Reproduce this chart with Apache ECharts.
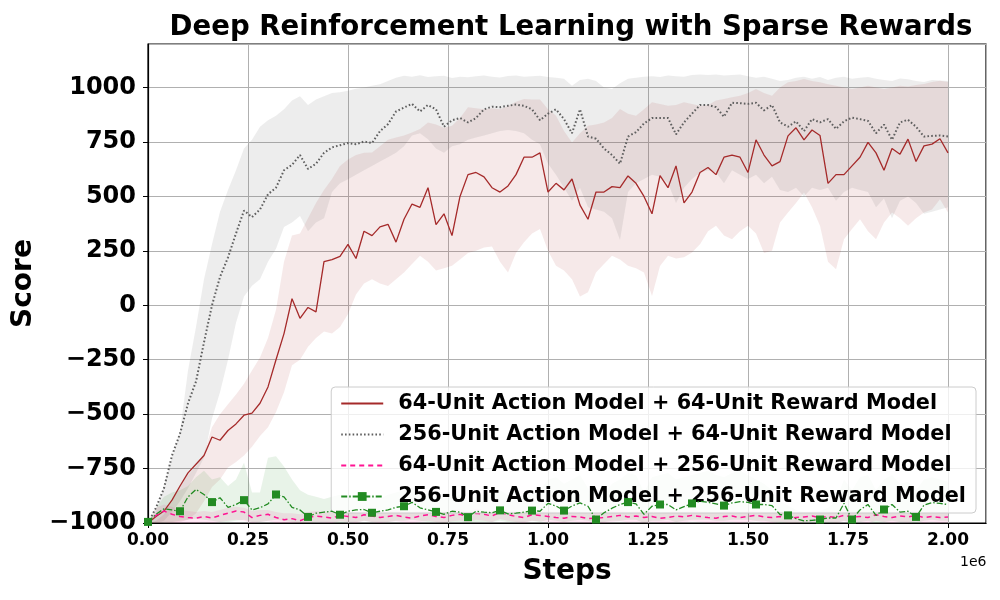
<!DOCTYPE html>
<html>
<head>
<meta charset="utf-8">
<title>Deep Reinforcement Learning with Sparse Rewards</title>
<script src="https://cdn.jsdelivr.net/npm/echarts@6.0.0/dist/echarts.min.js"></script>
<style>
html, body { margin: 0; padding: 0; background: #fff; }
#chart { width: 1000px; height: 600px; }
</style>
</head>
<body>
<div id="chart"></div>
<script>
// training steps, in thousands
var stepsK = [0, 20, 40, 60, 80, 100, 120, 140, 160, 180,
    200, 220, 240, 260, 280, 300, 320, 340, 360, 380,
    400, 420, 440, 460, 480, 500, 520, 540, 560, 580,
    600, 620, 640, 660, 680, 700, 720, 740, 760, 780,
    800, 820, 840, 860, 880, 900, 920, 940, 960, 980,
    1000, 1020, 1040, 1060, 1080, 1100, 1120, 1140, 1160, 1180,
    1200, 1220, 1240, 1260, 1280, 1300, 1320, 1340, 1360, 1380,
    1400, 1420, 1440, 1460, 1480, 1500, 1520, 1540, 1560, 1580,
    1600, 1620, 1640, 1660, 1680, 1700, 1720, 1740, 1760, 1780,
    1800, 1820, 1840, 1860, 1880, 1900, 1920, 1940, 1960, 1980,
    2000];

// 64-unit action + 64-unit reward
var redMean = [-1000, -970, -945, -895, -830, -770, -730, -690, -605, -620,
    -575, -545, -505, -495, -450, -375, -250, -130, 30, -60,
    -10, -30, 200, 210, 225, 280, 215, 340, 320, 360,
    372, 290, 395, 465, 450, 540, 370, 420, 320, 500,
    600, 610, 590, 540, 520, 548, 600, 680, 680, 700,
    520, 560, 530, 580, 460, 395, 520, 520, 545, 540,
    594, 560, 500, 420, 595, 540, 640, 470, 520, 610,
    633, 600, 680, 690, 680, 610, 760, 690, 640, 660,
    778, 815, 760, 805, 780, 560, 600, 600, 640, 680,
    748, 700, 620, 720, 694, 763, 660, 732, 740, 765,
    700];
var redUpper = [-1000, -990, -960, -900, -830, -780, -740, -680, -560, -500,
    -455, -410, -360, -300, -240, -150, -20, 200, 320, 330,
    400, 470, 530, 580, 640, 670, 690, 700, 702, 730,
    760, 770, 780, 794, 810, 840, 830, 815, 824, 860,
    910, 905, 900, 905, 900, 915, 935, 947, 945, 945,
    900, 870, 800, 748, 790, 824, 830, 840, 860, 901,
    880, 870, 900, 932, 925, 916, 920, 932, 925, 916,
    920, 940, 947, 955, 962, 975, 993, 975, 962, 1000,
    1024, 1030, 1039, 1030, 1024, 1015, 1008, 1000, 993, 1000,
    1008, 1000, 993, 1000, 1008, 1005, 1012, 1016, 1025, 1031,
    1025];
var redLower = [-1000, -1000, -1000, -1000, -995, -985, -955, -900, -835, -800,
    -745, -720, -690, -650, -600, -560, -490, -400, -275, -250,
    -190, -150, -120, -130, -100, -40, 50, 100, 120, 100,
    89, 120, 150, 190, 227, 200, 160, 170, 181, 210,
    240, 250, 265, 270, 200, 150, 240, 290, 330, 350,
    250, 181, 160, 120, 40, 60, 150, 190, 227, 210,
    181, 170, 150, 43, 180, 227, 215, 220, 242, 280,
    340, 365, 320, 303, 340, 365, 330, 240, 250, 380,
    426, 470, 518, 450, 365, 200, 166, 303, 350, 395,
    340, 303, 380, 426, 400, 365, 400, 426, 440, 487,
    426];

// 256-unit action + 64-unit reward
var grayMean = [-1000, -930, -840, -690, -590, -450, -350, -170, 0, 130,
    220, 330, 435, 405, 440, 510, 540, 620, 645, 690,
    626, 650, 700, 725, 735, 745, 740, 752, 745, 800,
    832, 890, 908, 925, 890, 920, 900, 820, 850, 860,
    840, 860, 900, 912, 910, 916, 922, 916, 900, 850,
    880, 900, 855, 790, 900, 775, 765, 720, 690, 650,
    775, 795, 835, 860, 860, 860, 785, 840, 880, 920,
    920, 910, 866, 930, 928, 925, 930, 895, 920, 840,
    820, 845, 800, 855, 840, 855, 810, 845, 862, 855,
    847, 790, 830, 760, 840, 852, 820, 775, 778, 780,
    775];
var grayUpper = [-1000, -950, -830, -700, -580, -300, -100, 120, 280, 430,
    530, 620, 720, 760, 820, 850, 870, 900, 940, 960,
    920, 945, 960, 975, 978, 985, 995, 1000, 1008, 1015,
    1030, 1045, 1054, 1050, 1056, 1048, 1052, 1054, 1044, 1050,
    1047, 1052, 1055, 1050, 1046, 1053, 1055, 1050, 1052, 1054,
    1048, 1045, 1040, 1008, 1035, 1040, 1030, 1000, 993, 1020,
    1040, 1045, 1050, 1052, 1048, 1055, 1052, 1050, 1058, 1060,
    1058, 1060, 1055, 1058, 1060, 1052, 1045, 1050, 1040, 1030,
    1035, 1045, 1050, 1040, 1048, 1035, 1045, 1050, 1040, 1045,
    1048, 1040, 1035, 1030, 1042, 1038, 1030, 1025, 1035, 1032,
    1030];
var grayLower = [-1000, -1000, -990, -950, -900, -840, -770, -700, -520, -400,
    -250, -80, 40, 90, 120, 200, 260, 360, 380, 410,
    340, 380, 400, 520, 560, 579, 600, 620, 640, 660,
    680, 700, 730, 780, 790, 763, 720, 700, 730, 740,
    760, 770, 780, 790, 800, 805, 800, 790, 760, 740,
    650, 600, 540, 480, 540, 450, 440, 430, 400, 300,
    520, 560, 580, 600, 590, 560, 470, 540, 580, 610,
    620, 610, 560, 620, 600, 580, 600, 560, 590, 530,
    520, 540, 500, 540, 530, 540, 480, 520, 540, 530,
    520, 450, 490, 400, 480, 500, 470, 420, 430, 440,
    450];

// 64-unit action + 256-unit reward
var pinkMean = [-1000, -965, -945, -960, -970, -975, -978, -970, -977, -965,
    -955, -945, -950, -975, -965, -960, -975, -985, -980, -990,
    -975, -968, -972, -978, -965, -970, -975, -962, -968, -975,
    -970, -965, -972, -978, -968, -962, -970, -975, -965, -960,
    -972, -955, -960, -968, -950, -962, -970, -975, -962, -965,
    -970, -975, -978, -970, -972, -980, -978, -975, -970, -965,
    -972, -968, -975, -970, -978, -975, -968, -972, -965, -970,
    -975, -978, -970, -968, -975, -970, -965, -972, -975, -970,
    -978, -975, -972, -968, -975, -970, -975, -965, -972, -970,
    -975, -962, -970, -975, -968, -972, -965, -975, -970, -975,
    -972];
var pinkUpper = [-1000, -930, -915, -925, -940, -945, -950, -945, -950, -940,
    -930, -925, -930, -945, -940, -940, -950, -955, -955, -960,
    -950, -945, -948, -950, -942, -945, -950, -940, -945, -950,
    -945, -942, -948, -950, -945, -940, -945, -950, -942, -938,
    -948, -935, -940, -945, -930, -940, -945, -950, -940, -942,
    -945, -950, -952, -945, -948, -955, -952, -950, -945, -942,
    -948, -945, -950, -946, -952, -950, -945, -948, -942, -946,
    -950, -952, -946, -945, -950, -946, -942, -948, -950, -946,
    -952, -950, -948, -945, -950, -946, -950, -942, -948, -946,
    -950, -940, -946, -950, -945, -948, -942, -950, -946, -950,
    -948];
var pinkLower = [-1000, -1000, -995, -998, -1000, -1000, -1000, -998, -1000, -995,
    -990, -985, -990, -1000, -995, -992, -1000, -1000, -1000, -1000,
    -1000, -995, -998, -1000, -992, -995, -1000, -990, -995, -1000,
    -995, -992, -998, -1000, -995, -990, -995, -1000, -992, -988,
    -998, -985, -990, -995, -982, -990, -995, -1000, -990, -992,
    -995, -1000, -1000, -995, -998, -1000, -1000, -1000, -995, -992,
    -998, -995, -1000, -995, -1000, -1000, -995, -998, -992, -995,
    -1000, -1000, -995, -995, -1000, -995, -992, -998, -1000, -995,
    -1000, -1000, -998, -995, -1000, -995, -1000, -992, -998, -995,
    -1000, -990, -995, -1000, -995, -998, -992, -1000, -995, -1000,
    -998];

// 256-unit action + 256-unit reward
var greenMean = [-995, -960, -935, -940, -946, -880, -846, -869, -904, -884,
    -928, -915, -895, -940, -930, -912, -869, -880, -928, -940,
    -972, -955, -950, -946, -962, -946, -940, -938, -953, -946,
    -940, -928, -923, -905, -930, -940, -949, -960, -946, -950,
    -973, -946, -950, -953, -942, -958, -955, -950, -943, -946,
    -910, -922, -943, -922, -908, -923, -984, -953, -932, -915,
    -904, -912, -960, -923, -915, -915, -940, -925, -910, -900,
    -905, -912, -920, -908, -902, -905, -915, -915, -920, -961,
    -965, -980, -990, -988, -984, -977, -977, -910, -984, -940,
    -915, -965, -938, -915, -950, -946, -972, -918, -906, -910,
    -915];
var greenUpper = [-990, -930, -880, -860, -850, -830, -790, -760, -800, -790,
    -830, -800, -723, -860, -860, -700, -693, -740, -800, -850,
    -870, -880, -890, -880, -870, -880, -870, -860, -880, -890,
    -870, -860, -850, -840, -860, -870, -880, -890, -880, -870,
    -900, -880, -870, -860, -850, -870, -880, -870, -860, -850,
    -800, -790, -820, -800, -780, -840, -900, -870, -820, -800,
    -770, -780, -860, -790, -780, -770, -800, -790, -780, -770,
    -760, -780, -790, -770, -760, -780, -800, -820, -850, -900,
    -920, -940, -950, -950, -945, -930, -900, -800, -850, -790,
    -780, -850, -800, -780, -820, -810, -850, -800, -790, -800,
    -810];
var greenLower = [-1000, -1000, -995, -995, -990, -985, -980, -985, -990, -995,
    -995, -990, -985, -995, -995, -990, -985, -990, -995, -1000,
    -1000, -995, -995, -995, -1000, -995, -995, -990, -995, -995,
    -995, -990, -990, -985, -990, -995, -995, -1000, -995, -995,
    -1000, -995, -995, -995, -990, -995, -995, -995, -990, -995,
    -985, -990, -995, -990, -985, -990, -1000, -995, -990, -990,
    -985, -985, -1000, -990, -990, -985, -995, -990, -985, -985,
    -985, -990, -990, -985, -985, -985, -990, -990, -995, -1000,
    -1000, -1000, -1000, -1000, -1000, -1000, -1000, -990, -1000, -995,
    -990, -1000, -995, -990, -995, -995, -1000, -990, -985, -990,
    -990];

var names = ['64-Unit Action Model + 64-Unit Reward Model',
    '256-Unit Action Model + 64-Unit Reward Model',
    '64-Unit Action Model + 256-Unit Reward Model',
    '256-Unit Action Model + 256-Unit Reward Model'];

var FONT = 'DejaVu Sans';

function pairs(ys) {
    return stepsK.map(function(k, i) { return [k * 1000, ys[i]]; });
}

// shaded min/max band drawn as one polygon through the axis scales
function band(lower, upper, color) {
    return {
        type: 'custom',
        silent: true,
        z: 1,
        data: stepsK.map(function(k, i) { return [k * 1000, lower[i], upper[i]]; }),
        encode: { x: 0, y: [1, 2] },
        renderItem: function(params, api) {
            if (params.dataIndex !== 0) return;
            var pts = [], i;
            for (i = 0; i < stepsK.length; i++) pts.push(api.coord([stepsK[i] * 1000, upper[i]]));
            for (i = stepsK.length - 1; i >= 0; i--) pts.push(api.coord([stepsK[i] * 1000, lower[i]]));
            return { type: 'polygon', shape: { points: pts }, style: { fill: color } };
        }
    };
}

// square marker every 0.08e6 steps on the last curve
var greenData = pairs(greenMean).map(function(p, i) {
    return { value: p, symbolSize: (i % 4 === 0 && i < 100) ? 8 : 0 };
});

var chart = echarts.init(document.getElementById('chart'), null, { renderer: 'canvas' });

var option = {
    animation: false,
    backgroundColor: '#ffffff',
    textStyle: { fontFamily: FONT },
    title: {
        text: 'Deep Reinforcement Learning with Sparse Rewards',
        left: 566,
        top: 9,
        textAlign: 'center',
        textStyle: { fontFamily: FONT, fontSize: 27.6, fontWeight: 'bold', color: '#000' }
    },
    grid: {
        left: 148, right: 14, top: 44, bottom: 77,
        show: true, borderColor: '#000', borderWidth: 1.2, backgroundColor: 'transparent'
    },
    legend: {
        // no dot on the plain line handles
        data: names.map(function(n, i) {
            return i < 3 ? { name: n, itemStyle: { opacity: 0 } } : { name: n };
        }),
        orient: 'vertical',
        right: 24,
        top: 387,
        itemWidth: 42,
        itemHeight: 11,
        itemGap: 10,
        padding: [6, 10, 6, 9],
        backgroundColor: 'rgba(255,255,255,0.8)',
        borderColor: '#cccccc',
        borderWidth: 1,
        borderRadius: 4,
        textStyle: { fontFamily: FONT, fontSize: 20.8, fontWeight: 'bold', color: '#000', padding: [0, 0, 0, 10] }
    },
    xAxis: {
        type: 'value',
        min: 0,
        max: 2095000,
        interval: 250000,
        name: 'Steps',
        nameLocation: 'middle',
        nameGap: 35,
        nameTextStyle: { fontFamily: FONT, fontSize: 28, fontWeight: 'bold', color: '#000' },
        axisLine: { show: true, onZero: false, lineStyle: { color: '#000', width: 1.2 } },
        axisTick: { show: true, length: 5, lineStyle: { color: '#000' } },
        axisLabel: {
            showMaxLabel: false,
            margin: 9,
            fontFamily: FONT, fontSize: 17, fontWeight: 'bold', color: '#000',
            formatter: function(v) { return (v / 1e6).toFixed(2); }
        },
        splitLine: { show: true, lineStyle: { color: '#b0b0b0', width: 1 } }
    },
    yAxis: {
        type: 'value',
        min: -1000,
        max: 1200,
        interval: 250,
        name: 'Score',
        nameLocation: 'middle',
        nameGap: 100,
        nameTextStyle: { fontFamily: FONT, fontSize: 28, fontWeight: 'bold', color: '#000' },
        axisLine: { show: true, onZero: false, lineStyle: { color: '#000', width: 1.2 } },
        axisTick: { show: true, length: 5, lineStyle: { color: '#000' } },
        axisLabel: {
            showMaxLabel: false,
            margin: 12,
            fontFamily: FONT, fontSize: 24, fontWeight: 'bold', color: '#000',
            formatter: function(v) { return v < 0 ? '\u2212' + Math.abs(v) : String(v); }
        },
        splitLine: { show: true, lineStyle: { color: '#b0b0b0', width: 1 } }
    },
    graphic: [{
        type: 'text',
        left: 960,
        top: 555,
        style: { text: '1e6', fontFamily: FONT, fontSize: 14, fill: '#000' }
    }],
    series: [
        band(redLower, redUpper, 'rgba(165,42,42,0.1)'),
        band(grayLower, grayUpper, 'rgba(105,105,105,0.12)'),
        band(pinkLower, pinkUpper, 'rgba(255,20,147,0.1)'),
        band(greenLower, greenUpper, 'rgba(34,139,34,0.1)'),
        {
            name: names[0], type: 'line', z: 3, symbol: 'none',
            data: pairs(redMean),
            itemStyle: { color: '#a52a2a' },
            lineStyle: { color: '#a52a2a', width: 1.3 }
        },
        {
            name: names[1], type: 'line', z: 3, symbol: 'none',
            data: pairs(grayMean),
            itemStyle: { color: '#5f5f5f' },
            lineStyle: { color: '#5f5f5f', width: 2, type: [1.6, 2.2] }
        },
        {
            name: names[2], type: 'line', z: 3, symbol: 'none',
            data: pairs(pinkMean),
            itemStyle: { color: '#ff1493' },
            lineStyle: { color: '#ff1493', width: 1.5, type: [5, 4] }
        },
        {
            name: names[3], type: 'line', z: 4,
            symbol: 'rect', symbolSize: 8, showSymbol: true, showAllSymbol: true,
            data: greenData,
            itemStyle: { color: '#228b22' },
            lineStyle: { color: '#228b22', width: 1.3, type: [6, 2, 1.5, 2] }
        }
    ]
};

chart.setOption(option);
</script>
</body>
</html>
